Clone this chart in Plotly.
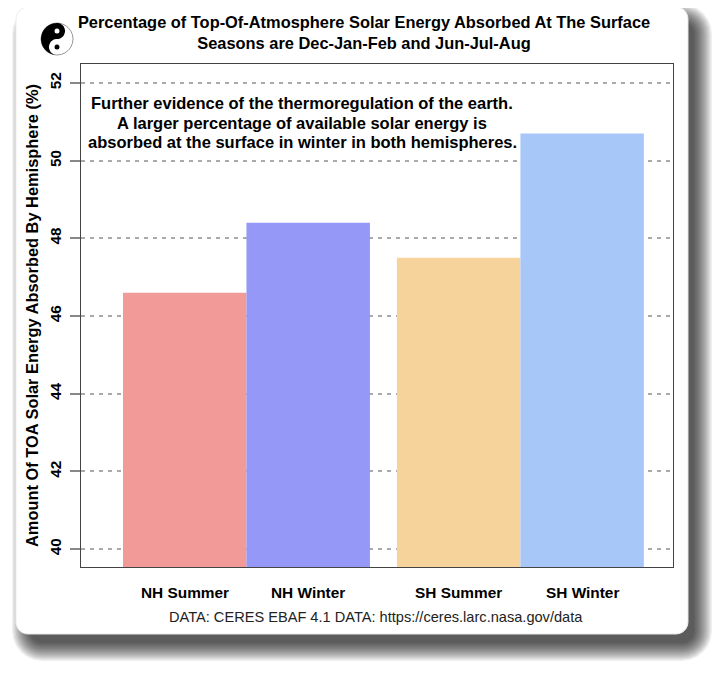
import math
import plotly.graph_objects as go

# data
hemispheres = ["NH", "SH"]
summer = [46.6, 47.5]
winter = [48.4, 50.7]
summer_colors = ["#F29A98", "#F7D39C"]
winter_colors = ["#9598F7", "#A7C7F9"]
bar_labels = [["NH Summer", "NH Winter"], ["SH Summer", "SH Winter"]]

title = ("Percentage of Top-Of-Atmosphere Solar Energy Absorbed At The Surface<br>"
         "Seasons are Dec-Jan-Feb and Jun-Jul-Aug")
note_lines = ["Further evidence of the thermoregulation of the earth.",
              "A larger percentage of available solar energy is",
              "absorbed at the surface in winter in both hemispheres."]
caption = "DATA: CERES EBAF 4.1 DATA: https://ceres.larc.nasa.gov/data"
ytitle = "Amount Of TOA Solar Energy Absorbed By Hemisphere (%)"

# the page puts the figure 8px in from the window corner
OFF = 8
W, H = 720 - OFF, 675 - OFF
L, R, T, B = 81 - OFF, 47, 64 - OFF, 108
PW, PH = W - L - R, H - T - B
FONT = "Liberation Sans, Arial, sans-serif"


# helpers take window pixel positions and give paper coords
def px(x):
    return (x - OFF - L) / PW


def py(y):
    return (H - B - (y - OFF)) / PH


def rrect(x0, y0, x1, y1, r, n=6):
    pts = []
    corners = [(x1 - r, y0 + r, -90), (x1 - r, y1 - r, 0), (x0 + r, y1 - r, 90), (x0 + r, y0 + r, 180)]
    for cx, cy, a0 in corners:
        for i in range(n + 1):
            a = math.radians(a0 + 90 * i / n)
            pts.append((cx + r * math.cos(a), cy + r * math.sin(a)))
    return poly(pts)


def circle_pts(cx, cy, r, a0, a1, n=24):
    return [(cx + r * math.cos(math.radians(a0 + (a1 - a0) * i / n)),
             cy + r * math.sin(math.radians(a0 + (a1 - a0) * i / n))) for i in range(n + 1)]


def poly(pts):
    return "M" + "L".join(f"{px(x):.4f},{py(y):.4f}" for x, y in pts) + "Z"


fig = go.Figure()
fig.add_trace(go.Bar(x=hemispheres, y=summer, marker=dict(color=summer_colors, line_width=0),
                     showlegend=False, hoverinfo="y"))
fig.add_trace(go.Bar(x=hemispheres, y=winter, marker=dict(color=winter_colors, line_width=0),
                     showlegend=False, hoverinfo="y"))

shapes = []
# soft card shadow, built from stacked translucent layers
for k in range(16):
    g = k * 1.2
    shapes.append(dict(type="path", xref="paper", yref="paper", layer="below",
                       path=rrect(30 - g, 22 - g, 694 + g, 643 + g, 12 + g),
                       fillcolor="rgba(0,0,0,0.06)", line_width=0))
# card
shapes.append(dict(type="path", xref="paper", yref="paper", layer="below",
                   path=rrect(16, 7, 688, 634, 12), fillcolor="white",
                   line=dict(color="#ececec", width=1)))
# yin-yang logo
cx, cy, r = 57, 39, 16
shapes.append(dict(type="path", xref="paper", yref="paper", path=poly(circle_pts(cx, cy, r, 0, 360)),
                   fillcolor="white", line=dict(color="#999", width=1)))
blk = (circle_pts(cx, cy, r, -90, -270) + circle_pts(cx, cy + r / 2, r / 2, 90, 270)
       + circle_pts(cx, cy - r / 2, r / 2, 90, -90))
shapes.append(dict(type="path", xref="paper", yref="paper", path=poly(blk), fillcolor="black", line_width=0))
shapes.append(dict(type="path", xref="paper", yref="paper",
                   path=poly(circle_pts(cx, cy - r / 2, 2.5, 0, 360, 12)), fillcolor="white", line_width=0))
shapes.append(dict(type="path", xref="paper", yref="paper",
                   path=poly(circle_pts(cx, cy + r / 2, 2.5, 0, 360, 12)), fillcolor="black", line_width=0))

annotations = [
    dict(text=caption, xref="paper", yref="paper", x=px(376), y=py(617), xanchor="center",
         yanchor="middle", showarrow=False, font=dict(family=FONT, size=14.6, color="#222")),
]
for i, line in enumerate(note_lines):
    annotations.append(dict(text=line, xref="paper", yref="paper", x=px(302), y=py(103 + 19.5 * i),
                            xanchor="center", yanchor="middle", showarrow=False,
                            font=dict(family=FONT, size=16.5, color="black", weight="bold")))
half_bar = PW / (1.557 + 0.604) * (1 - 0.0985) / 4
for hemi, pair in zip(hemispheres, bar_labels):
    for lab, sh in zip(pair, (-half_bar, half_bar)):
        annotations.append(dict(text=lab, xref="x", yref="paper", x=hemi, xshift=sh, y=py(592),
                                yanchor="middle", showarrow=False,
                                font=dict(family=FONT, size=15.4, color="black", weight="bold")))

fig.update_layout(
    width=W, height=H,
    margin=dict(l=L, r=R, t=T, b=B),
    paper_bgcolor="white", plot_bgcolor="white",
    barmode="group", bargap=0.0985, bargroupgap=0,
    title=dict(text=title, x=px(377), xanchor="center", y=1 - 20 / H, yanchor="top", yref="container",
               font=dict(family=FONT, size=16.4, color="black", weight="bold")),
    xaxis=dict(range=[-0.604, 1.557], showticklabels=False, ticks="", showgrid=False,
               showline=True, mirror=True, linecolor="#444", linewidth=1),
    yaxis=dict(range=[39.54, 52.49], tick0=40, dtick=2, ticks="outside", ticklen=10,
               tickcolor="#888", tickwidth=1.5, tickangle=-90, ticklabelstandoff=3,
               tickfont=dict(family=FONT, size=15.3, color="black", weight="bold"),
               showgrid=True, gridcolor="#aaaaaa", gridwidth=1.5, griddash="4px,5px",
               zeroline=False, showline=True, mirror=True, linecolor="#444", linewidth=1,
               title=dict(text=ytitle, standoff=4,
                          font=dict(family=FONT, size=16.4, color="black", weight="bold"))),
    shapes=shapes,
    annotations=annotations,
    font=dict(family=FONT),
)

fig.write_html("out.html")
